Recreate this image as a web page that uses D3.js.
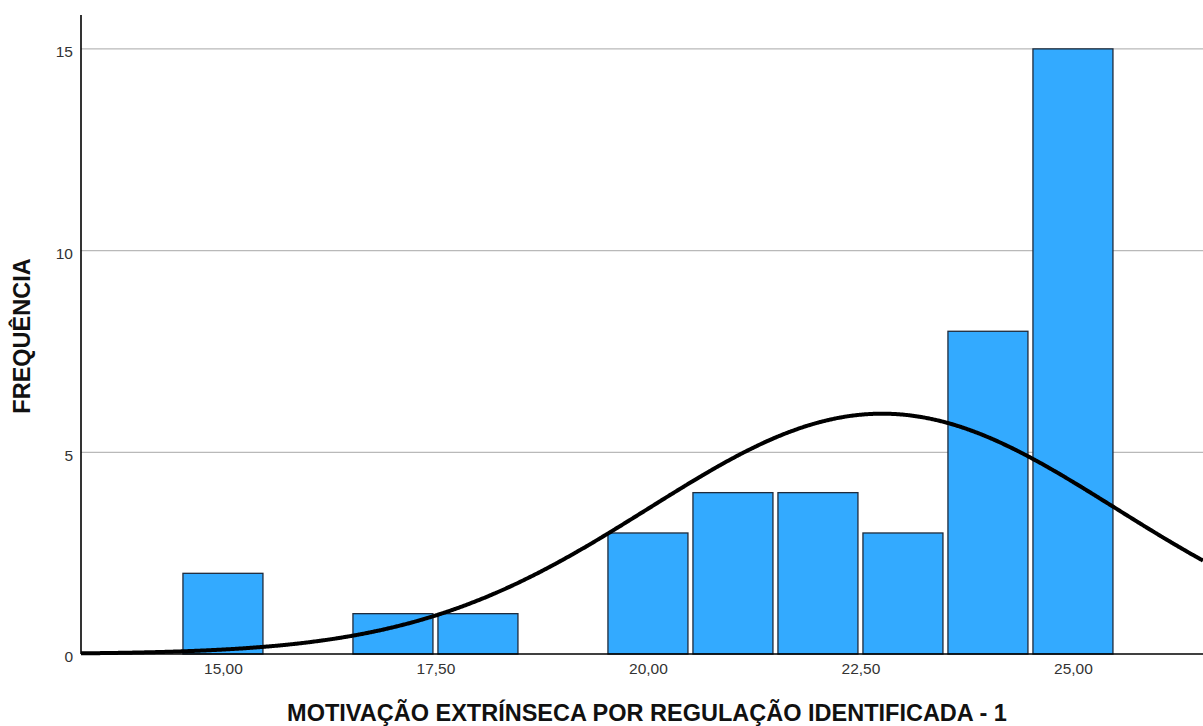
<!DOCTYPE html>
<html>
<head>
<meta charset="utf-8">
<script src="https://cdn.jsdelivr.net/npm/d3@7"></script>
<style>
  html, body { margin: 0; padding: 0; background: #fff; }
  svg { display: block; }
  text { font-family: Arial, "Liberation Sans", sans-serif; }
</style>
</head>
<body>
<svg id="chart" width="1203" height="726"></svg>
<script>
// Histogram bins (score centres) and their frequencies
const binCentres = [15, 17, 18, 20, 21, 22, 23, 24, 25];
const frequencies = [2, 1, 1, 3, 4, 4, 3, 8, 15];
const binWidth = 1;

// Axis tick values
const xTicks = [15, 17.5, 20, 22.5, 25];
const yTicks = [0, 5, 10, 15];

const xTitle = "MOTIVAÇÃO EXTRÍNSECA POR REGULAÇÃO IDENTIFICADA - 1";
const yTitle = "FREQUÊNCIA";

const plot = { left: 81, right: 1203, top: 15, bottom: 654 };

const svg = d3.select("#chart");

const x = d3.scaleLinear().domain([13.33, 26.53]).range([plot.left, plot.right]);
const y = d3.scaleLinear().domain([0, 15.84]).range([plot.bottom, plot.top]);

const fmt = v => d3.format(".2f")(v).replace(".", ",");

// Gridlines
svg.append("g")
  .selectAll("line")
  .data(yTicks.filter(d => d > 0))
  .join("line")
  .attr("x1", plot.left).attr("x2", plot.right)
  .attr("y1", d => y(d)).attr("y2", d => y(d))
  .attr("stroke", "#b9b9b9").attr("stroke-width", 1.2);

// Bars
const bins = binCentres.map((c, i) => ({ c, n: frequencies[i] }));
const inset = 2.5;
svg.append("g")
  .selectAll("rect")
  .data(bins)
  .join("rect")
  .attr("x", d => x(d.c - binWidth / 2) + inset)
  .attr("width", d => x(d.c + binWidth / 2) - x(d.c - binWidth / 2) - 2 * inset)
  .attr("y", d => y(d.n))
  .attr("height", d => y(0) - y(d.n))
  .attr("fill", "#33aaff")
  .attr("stroke", "#1f2b3c")
  .attr("stroke-width", 1.3);

// Fitted normal curve (mean and sd of the binned data, scaled to counts)
const total = d3.sum(frequencies);
const mean = d3.sum(bins, d => d.c * d.n) / total;
const sd = Math.sqrt(d3.sum(bins, d => d.n * (d.c - mean) ** 2) / (total - 1));
const density = v => total * binWidth / (sd * Math.sqrt(2 * Math.PI)) *
  Math.exp(-0.5 * ((v - mean) / sd) ** 2);
const curvePts = d3.range(x.domain()[0], x.domain()[1] + 0.01, 0.02).map(v => [v, density(v)]);

svg.append("clipPath").attr("id", "plotClip")
  .append("rect")
  .attr("x", plot.left).attr("y", plot.top)
  .attr("width", plot.right - plot.left).attr("height", plot.bottom - plot.top + 4);

svg.append("path")
  .datum(curvePts)
  .attr("clip-path", "url(#plotClip)")
  .attr("fill", "none")
  .attr("stroke", "#000")
  .attr("stroke-width", 4)
  .attr("stroke-linejoin", "round")
  .attr("d", d3.line().x(d => x(d[0])).y(d => y(d[1])).curve(d3.curveBasis));

// Axes
const tickFont = "Arial, 'Liberation Sans', sans-serif";
const xAxis = d3.axisBottom(x).tickValues(xTicks).tickFormat(fmt).tickSize(0).tickPadding(10);
const gx = svg.append("g").attr("transform", `translate(0,${plot.bottom})`).call(xAxis);
gx.select(".domain").attr("stroke", "#000").attr("stroke-width", 1.6)
  .attr("d", `M${plot.left},0H${plot.right}`);
gx.selectAll("text").attr("font-size", 15.5).attr("fill", "#333")
  .attr("font-family", tickFont).attr("dy", "0.62em");

const yAxis = d3.axisLeft(y).tickValues(yTicks).tickFormat(d3.format("d")).tickSize(0).tickPadding(8);
const gy = svg.append("g").attr("transform", `translate(${plot.left},0)`).call(yAxis);
gy.select(".domain").attr("stroke", "#000").attr("stroke-width", 1.6)
  .attr("d", `M0,${plot.top}V${plot.bottom}`);
gy.selectAll("text").attr("font-size", 15.5).attr("fill", "#333")
  .attr("font-family", tickFont).attr("dy", "0.5em");

// Axis titles
svg.append("text")
  .attr("x", 647).attr("y", 721)
  .attr("text-anchor", "middle")
  .attr("font-size", 23.5).attr("font-weight", "bold").attr("fill", "#111")
  .text(xTitle);

svg.append("text")
  .attr("transform", "translate(30,336) rotate(-90)")
  .attr("text-anchor", "middle")
  .attr("font-size", 23.5).attr("font-weight", "bold").attr("fill", "#111")
  .text(yTitle);
</script>
</body>
</html>
